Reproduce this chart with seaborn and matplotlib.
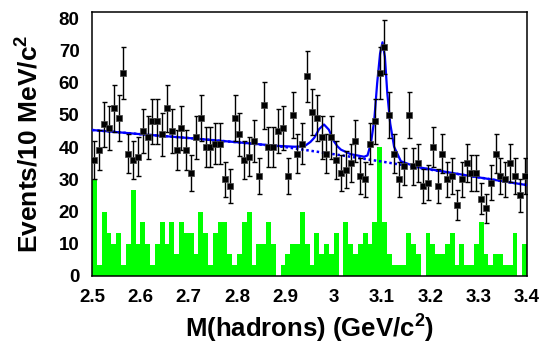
import numpy as np
import pandas as pd
import matplotlib
matplotlib.use("Agg")
import matplotlib.pyplot as plt
from matplotlib.ticker import MultipleLocator, FixedLocator
import seaborn as sns

# ---------------- data ----------------
bin_edges = [round(2.50 + 0.01 * i, 2) for i in range(91)]
bin_centers = [round(2.505 + 0.01 * i, 3) for i in range(90)]

data_counts = [36, 39, 47, 46, 52, 49, 63, 38, 36, 37, 45, 43, 48, 48, 44, 52, 45, 39, 46, 39, 32, 43, 49,
               40, 40, 41, 41, 30, 28, 49, 44, 36, 37, 42, 31, 53, 40, 40, 45, 46, 31, 50, 38, 41, 62,
               51, 49, 43, 38, 43, 36, 32, 33, 35, 42, 31, 30, 41, 48, 63, 71, 50, 38, 30, 34, 50, 34,
               35, 28, 29, 40, 28, 38, 30, 31, 22, 30, 35, 32, 32, 24, 21, 29, 38, 31, 30, 35, 31, 25, 31]

bkg_hist = [30.0, 3.3, 20.0, 13.3, 10.0, 13.3, 3.3, 10.0, 26.7, 10.0, 16.7, 10.0, 3.3, 10.0, 16.7, 10.0,
            16.7, 6.7, 16.7, 13.3, 13.3, 6.7, 20.0,
            13.3, 3.3, 13.3, 16.7, 16.7, 6.7, 3.3, 6.7, 16.7, 20.0, 3.3, 10.0, 10.0, 16.7, 10.0, 0.0,
            3.3, 6.7, 10.0, 10.0, 20.0, 10.0,
            3.3, 13.3, 6.7, 10.0, 6.7, 13.3, 0.0, 16.7, 10.0, 6.7, 10.0, 13.3, 10.0, 16.7, 40.0, 16.7,
            6.7, 3.3, 3.3, 3.3, 13.3, 10.0,
            6.7, 0.0, 13.3, 10.0, 6.7, 6.7, 10.0, 13.3, 3.3, 10.0, 3.3, 3.3, 10.0, 16.7, 6.7, 3.3,
            6.7, 6.7, 3.3, 3.3, 13.3, 0.0, 10.0]

fit_x = [2.50, 2.60, 2.70, 2.80, 2.88, 2.92, 2.94, 2.952, 2.96, 2.97, 2.98, 2.99, 3.00, 3.008,
         3.015, 3.035, 3.063, 3.070, 3.077, 3.084, 3.090, 3.096, 3.101, 3.106, 3.111, 3.117,
         3.125, 3.139, 3.17, 3.20, 3.30, 3.40]
fit_y = [45.3, 44.0, 42.8, 41.5, 40.4, 40.1, 40.3, 41.6, 42.9, 45.6, 47.0, 45.4, 41.9, 40.2,
         39.2, 37.8, 37.0, 37.4, 41.1, 48.4, 59.8, 69.0, 72.5, 68.0, 56.6, 47.3,
         40.1, 35.6, 33.9, 33.1, 30.6, 28.2]

bg_x = [2.50, 2.60, 2.70, 2.80, 2.90, 3.00, 3.10, 3.20, 3.30, 3.40]
bg_y = [45.3, 44.0, 42.8, 41.5, 40.0, 37.8, 35.5, 33.0, 30.6, 28.2]

x_tick_vals = [2.5, 2.6, 2.7, 2.8, 2.9, 3.0, 3.1, 3.2, 3.3, 3.4]
x_tick_labels = ["2.5", "2.6", "2.7", "2.8", "2.9", "3", "3.1", "3.2", "3.3", "3.4"]
y_tick_vals = [0, 10, 20, 30, 40, 50, 60, 70, 80]

# ---------------- style ----------------
sns.set_theme(style="white", rc={"text.color": "black", "axes.labelcolor": "black",
                                 "xtick.color": "black", "ytick.color": "black",
                                 "axes.edgecolor": "black"})
plt.rcParams["font.family"] = ["Liberation Sans", "DejaVu Sans"]
plt.rcParams["font.weight"] = "bold"
plt.rcParams["mathtext.fontset"] = "custom"
plt.rcParams["mathtext.bf"] = "Liberation Sans:bold"
plt.rcParams["mathtext.rm"] = "Liberation Sans:bold"
plt.rcParams["mathtext.default"] = "bf"

fig = plt.figure(figsize=(5.39, 3.52), dpi=100)
ax = fig.add_axes([92 / 539, 1 - 276 / 352, (527 - 92) / 539, (276 - 12) / 352])

df_b = pd.DataFrame({"m": bin_centers, "w": bkg_hist})
sns.histplot(data=df_b, x="m", weights="w", bins=bin_edges, element="step", fill=True,
             color="#00ff00", alpha=1.0, linewidth=0, ax=ax, zorder=1)

df_fit = pd.DataFrame({"m": fit_x, "y": fit_y})
df_bg = pd.DataFrame({"m": bg_x, "y": bg_y})
sns.lineplot(data=df_bg, x="m", y="y", color="#0000ff", linewidth=1.8, linestyle=(0, (1, 1.1)),
             ax=ax, zorder=3, estimator=None, sort=False)
sns.lineplot(data=df_fit, x="m", y="y", color="#0000ff", linewidth=1.6, ax=ax, zorder=4,
             estimator=None, sort=False)

df_d = pd.DataFrame({"m": bin_centers, "n": data_counts})
ax.errorbar(df_d["m"], df_d["n"], yerr=np.sqrt(df_d["n"]), fmt="none", ecolor="black",
            elinewidth=1.0, capsize=1.8, capthick=1.0, zorder=5)
sns.scatterplot(data=df_d, x="m", y="n", marker="s", s=20, color="black", edgecolor="#444444",
                linewidth=0.5, ax=ax, zorder=6)

ax.set_xlim(2.5, 3.4)
ax.set_ylim(0, 81.9)

ax.xaxis.set_major_locator(FixedLocator(x_tick_vals))
ax.set_xticklabels(x_tick_labels)
ax.xaxis.set_minor_locator(MultipleLocator(0.02))
ax.yaxis.set_major_locator(FixedLocator(y_tick_vals))
ax.yaxis.set_minor_locator(MultipleLocator(2))

ax.tick_params(axis="both", which="both", direction="in", top=False, right=False,
               color="black", labelcolor="black", width=0.9)
ax.tick_params(axis="both", which="major", length=9, labelsize=13.5)
ax.tick_params(axis="both", which="minor", length=4.5)
ax.tick_params(axis="y", which="major", pad=9)
ax.tick_params(axis="x", which="major", pad=9)
for lab in ax.get_xticklabels() + ax.get_yticklabels():
    lab.set_fontweight("bold")

for sp in ax.spines.values():
    sp.set_color("black")
    sp.set_linewidth(1.1)
    sp.set_visible(True)

ax.set_xlabel(r"M(hadrons) (GeV/c$^{2}$)", fontsize=18.5, fontweight="bold", labelpad=5,
              color="black")
ax.set_ylabel(r"Events/10 MeV/c$^{2}$", fontsize=19, fontweight="bold", labelpad=11,
              color="black")

fig.savefig("out.png", dpi=100)
